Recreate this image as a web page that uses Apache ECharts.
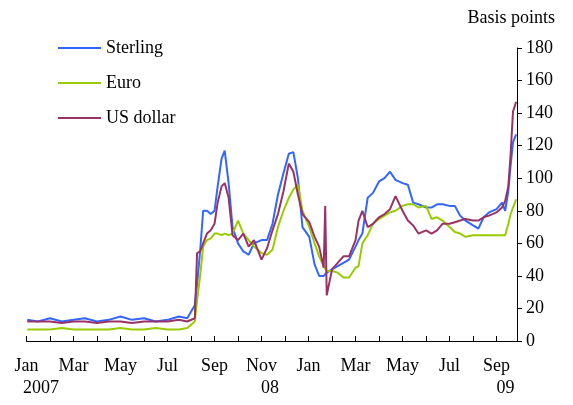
<!DOCTYPE html>
<html>
<head>
<meta charset="utf-8">
<script src="https://cdn.jsdelivr.net/npm/echarts@6/dist/echarts.min.js"></script>
<style>
  html, body { margin: 0; padding: 0; background: #fff; }
  #chart { width: 573px; height: 405px; }
</style>
</head>
<body>
<div id="chart"></div>
<script>
// roughly weekly readings, Jan 2007 - Sep 2008
const dates = [
  '2007-01-02', '2007-01-16', '2007-02-01', '2007-02-15', '2007-03-01', '2007-03-16',
  '2007-04-01', '2007-04-16', '2007-05-01', '2007-05-16', '2007-06-01', '2007-06-16',
  '2007-07-01', '2007-07-16', '2007-07-27', '2007-08-06', '2007-08-09', '2007-08-13',
  '2007-08-17', '2007-08-22', '2007-08-27', '2007-09-01', '2007-09-05', '2007-09-10',
  '2007-09-14', '2007-09-19', '2007-09-24', '2007-10-01', '2007-10-08', '2007-10-15',
  '2007-10-22', '2007-11-01', '2007-11-08', '2007-11-15', '2007-11-22', '2007-11-29',
  '2007-12-06', '2007-12-12', '2007-12-18', '2007-12-24', '2008-01-02', '2008-01-09',
  '2008-01-15', '2008-01-21', '2008-01-23', '2008-01-25', '2008-02-01', '2008-02-08',
  '2008-02-15', '2008-02-22', '2008-03-01', '2008-03-05', '2008-03-10', '2008-03-17',
  '2008-03-24', '2008-04-01', '2008-04-08', '2008-04-15', '2008-04-22', '2008-05-01',
  '2008-05-08', '2008-05-15', '2008-05-22', '2008-06-01', '2008-06-08', '2008-06-15',
  '2008-06-22', '2008-07-01', '2008-07-08', '2008-07-15', '2008-07-22', '2008-08-01',
  '2008-08-08', '2008-08-15', '2008-08-22', '2008-09-01', '2008-09-08', '2008-09-12',
  '2008-09-16', '2008-09-19', '2008-09-22', '2008-09-26'
]
const sterling = [
  13, 12, 14, 12, 13, 14, 12, 13, 15, 13, 14, 12,
  13, 15, 14, 22, 35, 55, 80, 80, 78, 80, 95, 112,
  117, 97, 70, 60, 55, 53, 60, 62, 62, 72, 90, 103,
  115, 116, 100, 70, 64, 47, 40, 40, 40, 42, 44, 46,
  48, 50, 58, 62, 66, 88, 91, 98, 100, 104, 99, 97,
  96, 85, 84, 82, 82, 84, 84, 83, 83, 77, 74, 71,
  69, 76, 79, 81, 85, 80, 92, 108, 122, 127
]
const euro = [
  7, 7, 7, 8, 7, 7, 7, 7, 8, 7, 7, 8,
  7, 7, 8, 12, 25, 40, 58, 62, 63, 66, 66, 65,
  66, 65, 66, 74, 66, 62, 58, 54, 53, 56, 70, 80,
  88, 93, 96, 80, 70, 60, 52, 46, 45, 43, 43, 42,
  39, 39, 45, 46, 60, 65, 72, 75, 77, 79, 80, 83,
  84, 84, 82, 83, 75, 76, 74, 70, 67, 66, 64, 65,
  65, 65, 65, 65, 65, 65, 72, 78, 82, 87
]
const usDollar = [
  12, 12, 12, 11, 12, 12, 11, 12, 12, 11, 12, 12,
  12, 13, 12, 14, 54, 55, 60, 66, 68, 72, 85, 95,
  97, 88, 65, 62, 66, 58, 62, 50, 57, 68, 78, 92,
  109, 104, 90, 78, 73, 64, 58, 45, 83, 28, 44, 48,
  52, 52, 62, 74, 80, 70, 72, 76, 78, 81, 89, 80,
  74, 71, 66, 68, 66, 68, 72, 72, 73, 74, 75, 74,
  74, 76, 77, 79, 82, 86, 95, 115, 141, 147
]
const monthNames = ['Jan', 'Feb', 'Mar', 'Apr', 'May', 'Jun', 'Jul', 'Aug', 'Sep', 'Oct', 'Nov', 'Dec']
const yearTicks = [0, 10, 20]
const yearNames = ['2007', '08', '09']
const yearPad = [29, 17, 18]

// months since Jan 2007, fractional by day
function toMonth(d) {
  const [y, m, day] = d.split('-').map(Number)
  const dim = new Date(y, m, 0).getDate()
  return (y - 2007) * 12 + (m - 1) + (day - 1) / dim
}
function pairs(vals) {
  return vals.map((v, i) => [toMonth(dates[i]), v])
}

const font = 'Liberation Serif'
const chart = echarts.init(document.getElementById('chart'))

const rich = { m: { fontFamily: font, fontSize: 18, color: '#000', lineHeight: 22 } }
yearNames.forEach((y, i) => {
  rich['y' + i] = { fontFamily: font, fontSize: 18, color: '#000', lineHeight: 22, padding: [0, 0, 0, yearPad[i]] }
})

const option = {
  animation: false,
  textStyle: { fontFamily: font, color: '#000' },
  title: {
    text: 'Basis points',
    right: 13,
    top: 4,
    textStyle: { fontFamily: font, fontSize: 18, fontWeight: 'normal', color: '#000' }
  },
  legend: {
    orient: 'vertical',
    left: 52,
    top: 34,
    itemWidth: 43,
    itemHeight: 14,
    itemGap: 17,
    itemStyle: { opacity: 0 },
    textStyle: { fontFamily: font, fontSize: 18, color: '#000' },
    data: ['Sterling', 'Euro', 'US dollar']
  },
  grid: {
    left: 26.5,
    right: 56,
    top: 48,
    bottom: 64,
    containLabel: false,
    outerBoundsMode: 'none'
  },
  xAxis: {
    type: 'value',
    min: 0,
    max: 20.87,
    interval: 1,
    splitLine: { show: false },
    axisLine: { onZero: false, lineStyle: { color: '#000', width: 1 } },
    axisTick: { inside: true, length: 5, lineStyle: { color: '#000' } },
    axisLabel: {
      margin: 14,
      showMaxLabel: false,
      rich: rich,
      formatter: function (v) {
        const k = Math.round(v)
        if (Math.abs(v - k) > 0.01 || k % 2 !== 0) return ''
        const name = '{m|' + monthNames[k % 12] + '}'
        const yi = yearTicks.indexOf(k)
        return yi >= 0 ? name + '\n{y' + yi + '|' + yearNames[yi] + '}' : name
      }
    }
  },
  yAxis: {
    type: 'value',
    position: 'right',
    min: 0,
    max: 180,
    interval: 20,
    splitLine: { show: false },
    axisLine: { show: true, onZero: false, lineStyle: { color: '#000', width: 1 } },
    axisTick: { show: true, length: 5, lineStyle: { color: '#000' } },
    axisLabel: { margin: 9, fontFamily: font, fontSize: 18, color: '#000' }
  },
  series: [
    {
      name: 'Sterling',
      type: 'line',
      symbol: 'none',
      lineStyle: { color: '#3366ff', width: 2 },
      itemStyle: { color: '#3366ff' },
      data: pairs(sterling)
    },
    {
      name: 'Euro',
      type: 'line',
      symbol: 'none',
      lineStyle: { color: '#99cc00', width: 2 },
      itemStyle: { color: '#99cc00' },
      data: pairs(euro)
    },
    {
      name: 'US dollar',
      type: 'line',
      symbol: 'none',
      lineStyle: { color: '#993366', width: 2 },
      itemStyle: { color: '#993366' },
      data: pairs(usDollar)
    }
  ]
}
chart.setOption(option)
</script>
</body>
</html>
